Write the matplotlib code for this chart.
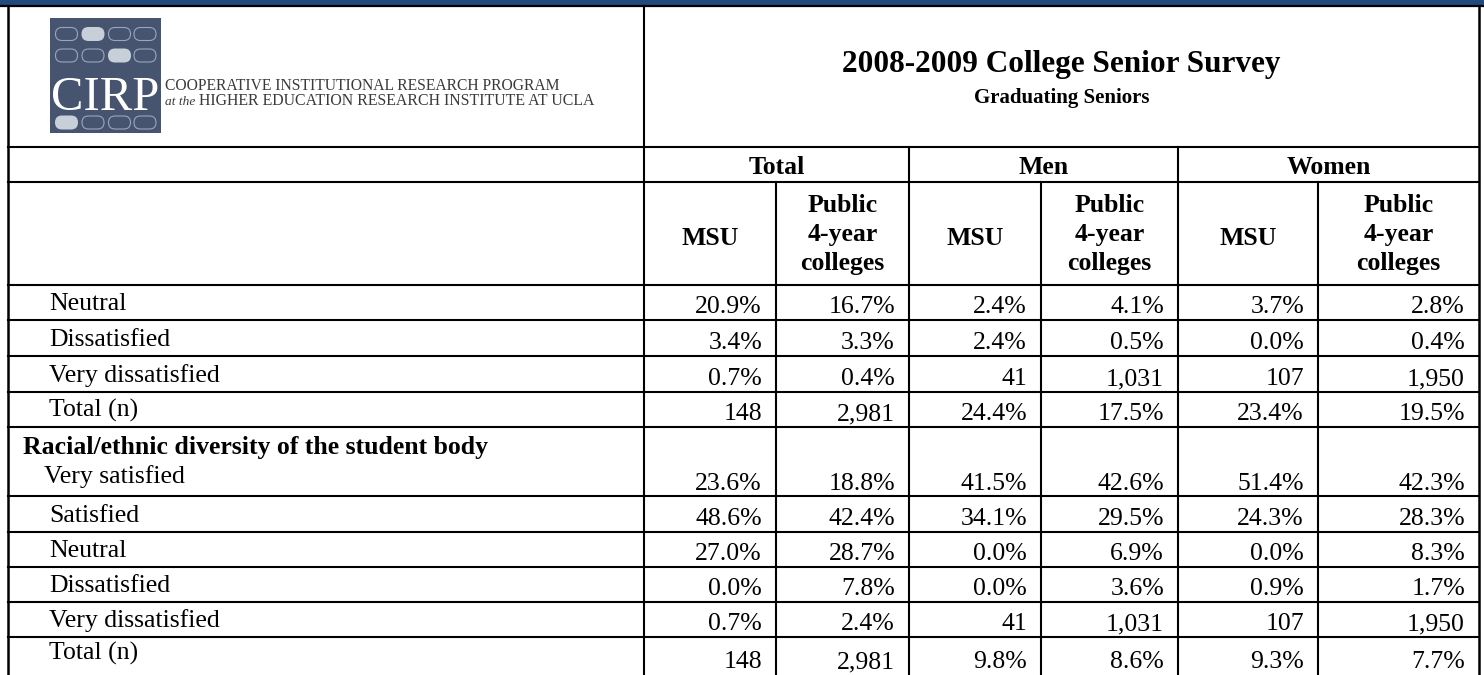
import matplotlib
matplotlib.use("Agg")
import matplotlib.pyplot as plt
from matplotlib.patches import Rectangle, FancyBboxPatch

# ---------------- data ----------------
title = "2008-2009 College Senior Survey"
subtitle = "Graduating Seniors"
logo_line1 = "COOPERATIVE INSTITUTIONAL RESEARCH PROGRAM"
logo_line2_it = "at the"
logo_line2 = "HIGHER EDUCATION RESEARCH INSTITUTE AT UCLA"

groups = ["Total", "Men", "Women"]
subheaders = ["MSU", "Public\n4-year\ncolleges", "MSU", "Public\n4-year\ncolleges",
              "MSU", "Public\n4-year\ncolleges"]

section_title = "Racial/ethnic diversity of the student body"
row_labels = ["Neutral", "Dissatisfied", "Very dissatisfied", "Total (n)",
              "Very satisfied", "Satisfied", "Neutral", "Dissatisfied",
              "Very dissatisfied", "Total (n)"]

msu_total = ["20.9%", "3.4%", "0.7%", "148", "23.6%", "48.6%", "27.0%", "0.0%", "0.7%", "148"]
pub_total = ["16.7%", "3.3%", "0.4%", "2,981", "18.8%", "42.4%", "28.7%", "7.8%", "2.4%", "2,981"]
msu_men = ["2.4%", "2.4%", "41", "24.4%", "41.5%", "34.1%", "0.0%", "0.0%", "41", "9.8%"]
pub_men = ["4.1%", "0.5%", "1,031", "17.5%", "42.6%", "29.5%", "6.9%", "3.6%", "1,031", "8.6%"]
msu_women = ["3.7%", "0.0%", "107", "23.4%", "51.4%", "24.3%", "0.0%", "0.9%", "107", "9.3%"]
pub_women = ["2.8%", "0.4%", "1,950", "19.5%", "42.3%", "28.3%", "8.3%", "1.7%", "1,950", "7.7%"]
columns = [msu_total, pub_total, msu_men, pub_men, msu_women, pub_women]

# ---------------- layout ----------------
W, H = 1484, 675
fig = plt.figure(figsize=(W / 100, H / 100), dpi=100)
ax = fig.add_axes([0, 0, 1, 1])
ax.set_xlim(0, W)
ax.set_ylim(H, 0)
ax.axis("off")

SERIF = ["Liberation Serif", "DejaVu Serif"]
FS = 18.5
LW = 1.5

col_x = [8, 644, 776, 909, 1041, 1178, 1318, 1479]
head_y = [6, 147, 182, 285]
row_y = [285, 320, 356, 392, 427, 496, 532, 567, 602, 637, 673]

# blue top bar
ax.add_patch(Rectangle((0, 0), W, 5.5, facecolor="#1f4b80", lw=0))

def hline(y, x0, x1, lw=LW):
    ax.plot([x0, x1], [y, y], color="black", lw=lw, solid_capstyle="projecting")

def vline(x, y0, y1, lw=LW):
    ax.plot([x, x], [y0, y1], color="black", lw=lw, solid_capstyle="projecting")

hline(6, 0, W, lw=1.6)
vline(col_x[0], 6, H + 5, lw=1.8)
vline(col_x[-1], 6, H + 5, lw=1.8)
vline(col_x[1], 6, H + 5)
for y in head_y[1:] + row_y[1:-1]:
    hline(y, col_x[0], col_x[-1])
for x in (col_x[3], col_x[5]):
    vline(x, head_y[1], H + 5)
for x in (col_x[2], col_x[4], col_x[6]):
    vline(x, head_y[2], H + 5)

# ---------------- logo ----------------
LOGO = "#46546f"
ax.add_patch(Rectangle((50, 18), 111, 115, facecolor=LOGO, lw=0))
oval_x = [55, 81.5, 108, 133.5]
oval_rows = [(27, 1), (48.5, 2), (115.5, 0)]
for oy, filled in oval_rows:
    for i, ox in enumerate(oval_x):
        if i == filled:
            p = FancyBboxPatch((ox, oy), 23, 14, boxstyle="round,pad=0,rounding_size=7",
                               facecolor="#c7d0d8", edgecolor="none")
        else:
            p = FancyBboxPatch((ox + 0.5, oy + 0.5), 22, 13, boxstyle="round,pad=0,rounding_size=6.5",
                               facecolor="none", edgecolor="#9aa6ba", lw=0.8)
        ax.add_patch(p)

renderer = fig.canvas.get_renderer()

def fit_width(t, target):
    w = t.get_window_extent(renderer).width
    t.set_fontsize(t.get_fontsize() * target / w)

cirp = ax.text(105.5, 110, "CIRP", family=SERIF, fontsize=36, color="white",
               ha="center", va="baseline")
fit_width(cirp, 108)

LOGO_TXT = "#3a3a3a"
t1 = ax.text(165, 90, logo_line1, family=SERIF, fontsize=10.5, color=LOGO_TXT,
             ha="left", va="baseline")
fit_width(t1, 398)
fs_logo = t1.get_fontsize()
t2a = ax.text(165, 105, logo_line2_it, family=SERIF, fontsize=fs_logo * 0.85,
              style="italic", color=LOGO_TXT, ha="left", va="baseline")
w2a = t2a.get_window_extent(renderer).width
t2b = ax.text(165 + w2a + 4, 105, logo_line2, family=SERIF, fontsize=fs_logo,
              color=LOGO_TXT, ha="left", va="baseline")
fit_width(t2b, 593 - (165 + w2a + 4))

# ---------------- title ----------------
title_cx = (col_x[1] + col_x[-1]) / 2
ax.text(title_cx, 72, title, family=SERIF, fontsize=22.5, weight="bold",
        ha="center", va="baseline")
ax.text(title_cx, 103, subtitle, family=SERIF, fontsize=15, weight="bold",
        ha="center", va="baseline")

# ---------------- headers ----------------
for g, name in enumerate(groups):
    cx = (col_x[1 + 2 * g] + col_x[3 + 2 * g]) / 2
    ax.text(cx, 174, name, family=SERIF, fontsize=FS, weight="bold",
            ha="center", va="baseline")

for c, name in enumerate(subheaders):
    cx = (col_x[1 + c] + col_x[2 + c]) / 2
    lines = name.split("\n")
    if len(lines) == 1:
        ax.text(cx, 245, name, family=SERIF, fontsize=FS, weight="bold",
                ha="center", va="baseline")
    else:
        for k, ln in enumerate(lines):
            ax.text(cx, 212 + 29 * k, ln, family=SERIF, fontsize=FS, weight="bold",
                    ha="center", va="baseline")

# ---------------- body ----------------
ax.text(23, 454, section_title, family=SERIF, fontsize=FS, weight="bold",
        ha="left", va="baseline")

n = len(row_labels)
for r in range(n):
    top, bot = row_y[r], row_y[r + 1]
    lab_x = 44 if row_labels[r] == "Very satisfied" else 49
    if r == n - 1:
        lab_y, val_y = bot - 13, bot - 5
    elif row_labels[r] == "Very satisfied":
        lab_y, val_y = bot - 13, bot - 6
    else:
        lab_y, val_y = bot - 10, bot - 7
    ax.text(lab_x, lab_y, row_labels[r], family=SERIF, fontsize=FS,
            ha="left", va="baseline")
    for c, vals in enumerate(columns):
        ax.text(col_x[2 + c] - 14, val_y, vals[r], family=SERIF, fontsize=FS,
                ha="right", va="baseline")

fig.savefig("out.png", dpi=100)
